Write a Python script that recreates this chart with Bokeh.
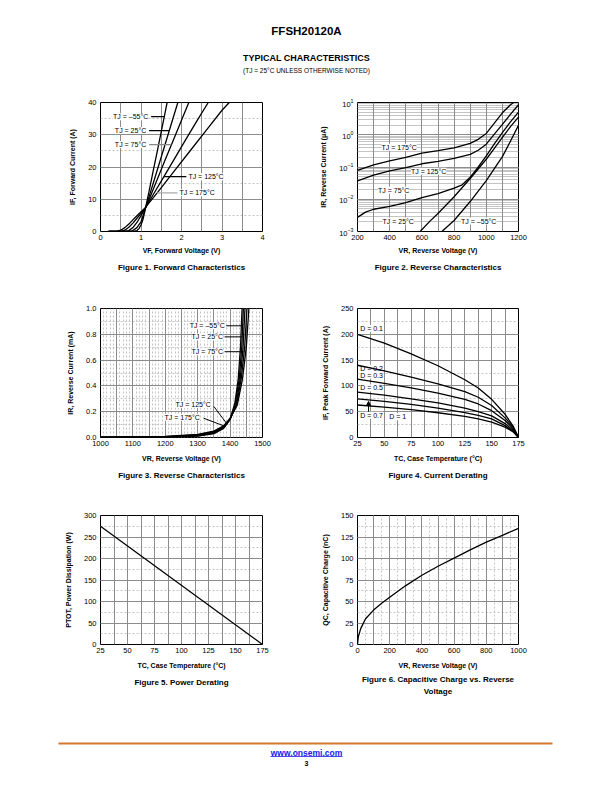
from bokeh.plotting import figure
from bokeh.models import (Range1d, SingleIntervalTicker, FixedTicker, Grid, Label, Arrow,
                          NormalHead, Title, PrintfTickFormatter)
from bokeh.layouts import column, row
from bokeh.core.properties import value
from bokeh.embed import file_html
from bokeh.resources import INLINE

FONT = "Liberation Sans"
DARK = "#8c8c8c"
LIGHT = "#c4c4c4"

# ---------------- data ----------------
# Figure 1: forward characteristics (V, A)
f1_v_m55 = [0.2, 0.8, 0.9, 0.95, 1.0, 1.05, 1.1, 1.2, 1.3, 1.4, 1.5, 1.6, 1.645]
f1_i_m55 = [0, 0.02, 0.3, 0.9, 2.0, 3.8, 6.6, 12.5, 18.7, 24.8, 31.0, 37.2, 40]
f1_v_25 = [0.2, 0.7, 0.8, 0.9, 1.0, 1.1, 1.2, 1.4, 1.6, 1.8, 1.91]
f1_i_25 = [0, 0.05, 0.3, 1.2, 3.0, 6.7, 10.8, 19.0, 27.2, 35.5, 40]
f1_v_75 = [0.2, 0.6, 0.7, 0.8, 0.9, 1.0, 1.1, 1.2, 1.4, 1.6, 1.8, 2.0, 2.18]
f1_i_75 = [0, 0.05, 0.3, 1.2, 2.8, 4.9, 7.0, 9.9, 16.1, 22.3, 28.4, 34.5, 40]
f1_v_125 = [0.2, 0.5, 0.6, 0.7, 0.8, 0.9, 1.0, 1.1, 1.3, 1.5, 1.8, 2.1, 2.4, 2.66]
f1_i_125 = [0, 0.05, 0.4, 1.3, 2.6, 4.1, 5.6, 7.1, 11.4, 15.6, 22.0, 28.4, 34.7, 40]
f1_v_175 = [0.2, 0.4, 0.5, 0.6, 0.7, 0.8, 0.9, 1.0, 1.1, 1.4, 1.8, 2.2, 2.6, 3.0, 3.18]
f1_i_175 = [0, 0.05, 0.4, 1.2, 2.3, 3.6, 4.9, 6.1, 7.3, 12.0, 18.4, 24.8, 31.2, 37.6, 40]
f1_xticks = [0, 1, 2, 3, 4]
f1_yticks = [0, 10, 20, 30, 40]

# Figure 2: reverse characteristics (V, uA, log)
f2_v_175 = [200, 300, 400, 500, 600, 700, 800, 900, 950, 1000, 1050, 1100, 1150, 1170]
f2_i_175 = [0.079, 0.117, 0.155, 0.20, 0.27, 0.32, 0.39, 0.54, 0.72, 1.1, 2.3, 4.8, 8.5, 10]
f2_v_125 = [200, 300, 400, 500, 600, 700, 800, 900, 950, 1000, 1050, 1100, 1150, 1200]
f2_i_125 = [0.037, 0.056, 0.076, 0.095, 0.126, 0.15, 0.186, 0.245, 0.33, 0.51, 1.05, 2.1, 4.3, 8.5]
f2_v_75 = [200, 250, 300, 400, 500, 600, 700, 800, 850, 900, 950, 1000, 1050, 1100, 1150, 1200]
f2_i_75 = [0.00275, 0.004, 0.0049, 0.006, 0.0079, 0.0112, 0.015, 0.022, 0.028, 0.048, 0.10, 0.22, 0.52, 1.17, 2.5, 5.0]
f2_v_25 = [589, 650, 700, 800, 900, 1000, 1050, 1100, 1150, 1200]
f2_i_25 = [0.001, 0.0021, 0.0036, 0.012, 0.044, 0.174, 0.38, 0.83, 1.78, 3.5]
f2_v_m55 = [724, 800, 900, 1000, 1050, 1100, 1150, 1200]
f2_i_m55 = [0.001, 0.0022, 0.0085, 0.038, 0.089, 0.21, 0.63, 1.95]
f2_xticks = [200, 400, 600, 800, 1000, 1200]

# Figure 3: reverse characteristics (V, mA)
f3_v_m55 = [1000, 1200, 1300, 1350, 1380, 1400, 1415, 1425, 1432, 1437]
f3_i_m55 = [0.0, 0.003, 0.01, 0.03, 0.07, 0.14, 0.27, 0.45, 0.7, 1.0]
f3_v_25 = [1000, 1200, 1300, 1350, 1380, 1400, 1415, 1428, 1436, 1441]
f3_i_25 = [0.001, 0.004, 0.013, 0.035, 0.075, 0.14, 0.25, 0.45, 0.7, 1.0]
f3_v_75 = [1000, 1200, 1300, 1350, 1380, 1400, 1418, 1431, 1440, 1446]
f3_i_75 = [0.001, 0.005, 0.016, 0.04, 0.08, 0.14, 0.25, 0.45, 0.7, 1.0]
f3_v_125 = [1000, 1200, 1300, 1350, 1380, 1400, 1420, 1434, 1445, 1452]
f3_i_125 = [0.002, 0.006, 0.02, 0.045, 0.085, 0.145, 0.25, 0.45, 0.7, 1.0]
f3_v_175 = [1000, 1200, 1300, 1350, 1380, 1400, 1422, 1438, 1450, 1458]
f3_i_175 = [0.003, 0.008, 0.025, 0.05, 0.09, 0.15, 0.25, 0.45, 0.7, 1.0]
f3_xticks = [1000, 1100, 1200, 1300, 1400, 1500]
f3_yticks = [0.0, 0.2, 0.4, 0.6, 0.8, 1.0]

# Figure 4: current derating (degC, A)
f4_t = [25, 50, 75, 100, 125, 137.5, 150, 162.5, 170, 175]
f4_d01 = [200, 183, 162, 139, 112, 96, 74, 45, 22, 0]
f4_d02 = [140, 129, 117, 104, 89, 78, 62, 38, 20, 0]
f4_d03 = [113, 105, 96, 86, 74, 65, 52, 33, 17, 0]
f4_d05 = [88, 82, 75, 67, 57, 50, 42, 27, 14, 0]
f4_d07 = [75, 70, 64, 57, 48, 43, 36, 23, 12, 0]
f4_d1 = [63, 59, 54, 48, 41, 36, 30, 20, 11, 0]
f4_xticks = [25, 50, 75, 100, 125, 150, 175]
f4_yticks = [0, 50, 100, 150, 200, 250]

# Figure 5: power derating
f5_t = [25, 175]
f5_p = [275, 0]
f5_xticks = [25, 50, 75, 100, 125, 150, 175]
f5_yticks = [0, 50, 100, 150, 200, 250, 300]

# Figure 6: capacitive charge
f6_v = [0, 5, 20, 50, 100, 150, 200, 300, 400, 500, 600, 700, 800, 900, 1000]
f6_q = [0, 9, 18.5, 30, 40, 48, 55, 68.5, 80.5, 91, 100.5, 110, 119, 127, 135]
f6_xticks = [0, 200, 400, 600, 800, 1000]
f6_yticks = [0, 25, 50, 75, 100, 125, 150]

# annotation positions (data units)
f1_labels = [("TJ = \u201355\u00b0C", 1.18, 35.6, "right"), ("TJ = 25\u00b0C", 1.13, 31.3, "right"),
             ("TJ = 75\u00b0C", 1.13, 26.95, "right"), ("TJ = 125\u00b0C", 2.17, 17.0, "left"),
             ("TJ = 175\u00b0C", 1.95, 12.0, "left")]
f1_leaders = [(1.25, 1.58, 35.6, "black"), (1.2, 1.70, 31.3, "black"), (1.2, 1.75, 26.95, "#888888"),
              (1.57, 2.12, 17.0, "black"), (1.40, 1.90, 12.0, "#aaaaaa")]
f2_labels = [("TJ = 175\u00b0C", 459, 0.41), ("TJ = 125\u00b0C", 642, 0.074), ("TJ = 75\u00b0C", 425, 0.019),
             ("TJ = 25\u00b0C", 453, 0.0021), ("TJ = \u201355\u00b0C", 953, 0.0021)]
f3_labels = [("TJ = \u201355\u00b0C", 1384, 0.866, "right"), ("TJ = 25\u00b0C", 1378, 0.78, "right"),
             ("TJ = 75\u00b0C", 1378, 0.665, "right"), ("TJ = 125\u00b0C", 1286, 0.255, "center"),
             ("TJ = 175\u00b0C", 1252, 0.157, "center")]
f3_leaders = [(1388, 0.866, 1435, 0.866), (1383, 0.78, 1438, 0.78), (1383, 0.665, 1442, 0.665),
              (1350, 0.24, 1392, 0.10), (1318, 0.15, 1386, 0.085)]
f4_labels = [("D = 0.1", 27.5, 211), ("D = 0.2", 27.5, 134), ("D = 0.3", 27.5, 121),
             ("D = 0.5", 27.5, 96), ("D = 0.7", 27.5, 43), ("D = 1", 54.5, 40)]


def style_title(t):
    t.align = "center"
    t.text_font = FONT
    t.text_font_style = "bold"
    t.text_font_size = "8px"
    t.text_color = "black"


def panel(w, h, bl, br, bt, bb, xr, yr, caption, xlabel, ylabel, ylog=False, xls=3):
    p = figure(width=w, height=h, x_range=Range1d(*xr), y_range=Range1d(*yr),
               y_axis_type="log" if ylog else "linear", output_backend="svg",
               toolbar_location=None, min_border_left=bl, min_border_right=br,
               min_border_top=bt, min_border_bottom=bb, title_location="below")
    p.outline_line_color = "black"
    p.outline_line_width = 1
    p.xgrid.grid_line_color = None
    if not ylog:
        p.ygrid.grid_line_color = None
    for ax in p.axis:
        ax.axis_line_color = None
        ax.major_tick_line_color = None
        ax.minor_tick_line_color = None
        ax.major_tick_out = 0
        ax.major_tick_in = 0
        ax.minor_tick_out = 0
        ax.minor_tick_in = 0
        ax.major_label_text_font = FONT
        ax.major_label_text_font_size = "7.5px"
        ax.major_label_text_color = "black"
        ax.axis_label_text_font = FONT
        ax.axis_label_text_font_style = "bold"
        ax.axis_label_text_font_size = "7px"
        ax.axis_label_text_color = "black"
    p.xaxis.major_label_standoff = 3
    p.xaxis.axis_label_standoff = xls
    p.yaxis.major_label_standoff = 4
    p.yaxis.axis_label_standoff = 9
    p.xaxis.axis_label = xlabel
    p.yaxis.axis_label = ylabel
    p.title.text = caption
    style_title(p.title)
    p.title.standoff = 9
    return p


def grid(p, dim, interval, color, dash="solid"):
    g = Grid(dimension=dim, ticker=SingleIntervalTicker(interval=interval),
             grid_line_color=color, grid_line_dash=dash, grid_line_width=1)
    p.add_layout(g)


def label(p, text, x, y, align="left", level="annotation"):
    p.add_layout(Label(x=x, y=y, text=text, text_font=FONT, text_font_size="7px",
                       text_color="black", text_align=align, text_baseline="middle",
                       background_fill_color="white", level=level))


def curve(p, xs, ys):
    p.line(xs, ys, line_color="black", line_width=1.3)


WL = 306
WR = 304
# ---------------- Figure 1 ----------------
p1 = panel(WL, 202, 100, 44, 14, 59, (0, 4), (0, 40), "Figure 1. Forward Characteristics",
           "VF, Forward Voltage (V)", "IF, Forward Current (A)", xls=4)
grid(p1, 1, 5, LIGHT, "2 2")
grid(p1, 0, 0.5, DARK)
grid(p1, 1, 10, DARK)
p1.xaxis.ticker = FixedTicker(ticks=f1_xticks)
p1.yaxis.ticker = FixedTicker(ticks=f1_yticks)
for xs, ys in [(f1_v_m55, f1_i_m55), (f1_v_25, f1_i_25), (f1_v_75, f1_i_75),
               (f1_v_125, f1_i_125), (f1_v_175, f1_i_175)]:
    curve(p1, xs, ys)
for x0, x1, y, c in f1_leaders:
    p1.segment(x0=[x0], y0=[y], x1=[x1], y1=[y], line_color=c, line_width=1.2)
for t, x, y, a in f1_labels:
    label(p1, t, x, y, a)

# ---------------- Figure 2 ----------------
p2 = panel(WR, 202, 51, 92, 14, 59, (200, 1200), (1e-3, 1e1), "Figure 2. Reverse Characteristics",
           "VR, Reverse Voltage (V)", "IR, Reverse Current (\u03bcA)", ylog=True, xls=4)
p2.ygrid.grid_line_color = DARK
p2.ygrid.minor_grid_line_color = LIGHT
grid(p2, 0, 100, DARK)
p2.xaxis.ticker = FixedTicker(ticks=f2_xticks)
for xs, ys in [(f2_v_175, f2_i_175), (f2_v_125, f2_i_125), (f2_v_75, f2_i_75),
               (f2_v_25, f2_i_25), (f2_v_m55, f2_i_m55)]:
    curve(p2, xs, ys)
for t, x, y in f2_labels:
    label(p2, t, x, y, "center")

# ---------------- Figure 3 ----------------
p3 = panel(WL, 207, 100, 44, 18, 60, (1000, 1500), (0, 1), "Figure 3. Reverse Characteristics",
           "VR, Reverse Voltage (V)", "IR, Reverse Current (mA)", xls=6)
grid(p3, 0, 10, LIGHT, "2 2")
grid(p3, 1, 0.1, LIGHT, "2 2")
grid(p3, 0, 50, DARK)
grid(p3, 1, 0.2, DARK)
p3.xaxis.ticker = FixedTicker(ticks=f3_xticks)
p3.yaxis.ticker = FixedTicker(ticks=f3_yticks)
p3.yaxis.formatter = PrintfTickFormatter(format="%.1f")
for xs, ys in [(f3_v_m55, f3_i_m55), (f3_v_25, f3_i_25), (f3_v_75, f3_i_75),
               (f3_v_125, f3_i_125), (f3_v_175, f3_i_175)]:
    curve(p3, xs, ys)
for x0, y0, x1, y1 in f3_leaders:
    p3.segment(x0=[x0], y0=[y0], x1=[x1], y1=[y1], line_color="black", line_width=1)
for t, x, y, a in f3_labels:
    label(p3, t, x, y, a)

# ---------------- Figure 4 ----------------
p4 = panel(WR, 207, 51, 92, 18, 60, (25, 175), (0, 250), "Figure 4. Current Derating",
           "TC, Case Temperature (\u00b0C)", "IF, Peak Forward Current (A)", xls=6)
grid(p4, 1, 25, LIGHT, "2 2")
grid(p4, 0, 12.5, DARK)
grid(p4, 1, 50, DARK)
p4.xaxis.ticker = FixedTicker(ticks=f4_xticks)
p4.yaxis.ticker = FixedTicker(ticks=f4_yticks)
for t, x, y in f4_labels:
    label(p4, t, x, y, "left", level="underlay")
for ys in [f4_d01, f4_d02, f4_d03, f4_d05, f4_d07, f4_d1]:
    curve(p4, f4_t, ys)
p4.add_layout(Arrow(end=NormalHead(size=4, fill_color="black", line_color="black"),
                    x_start=35.3, y_start=50, x_end=35.3, y_end=70, line_width=1))

# ---------------- Figure 5 ----------------
p5 = panel(WL, 208, 100, 44, 18, 61, (25, 175), (0, 300), "Figure 5. Power Derating",
           "TC, Case Temperature (\u00b0C)", "PTOT, Power Dissipation (W)", xls=6)
grid(p5, 1, 25, LIGHT, "2 2")
grid(p5, 0, 12.5, DARK)
grid(p5, 1, 50, DARK)
p5.xaxis.ticker = FixedTicker(ticks=f5_xticks)
p5.yaxis.ticker = FixedTicker(ticks=f5_yticks)
curve(p5, f5_t, f5_p)

# ---------------- Figure 6 ----------------
# the figure's own (outermost) title carries the second caption line
p6 = panel(WR, 208, 51, 92, 18, 61, (0, 1000), (0, 150), "Voltage",
           "VR, Reverse Voltage (V)", "QC, Capacitive Charge (nC)", xls=6)
p6.title.standoff = 0
t6 = Title(text="Figure 6. Capacitive Charge vs. Reverse")
style_title(t6)
t6.standoff = 2
p6.add_layout(t6, "below")
for t in (p6.title, t6):
    if "padding" in t.properties():
        t.padding = 0
grid(p6, 0, 50, LIGHT, "2 2")
grid(p6, 1, 12.5, LIGHT, "2 2")
grid(p6, 0, 100, DARK)
grid(p6, 1, 25, DARK)
p6.xaxis.ticker = FixedTicker(ticks=f6_xticks)
p6.yaxis.ticker = FixedTicker(ticks=f6_yticks)
curve(p6, f6_v, f6_q)


# ---------------- header / footer ----------------
def blank(h):
    p = figure(width=610, height=h, x_range=Range1d(0, 610), y_range=Range1d(h, 0),
               output_backend="svg", toolbar_location=None, min_border=0,
               x_axis_location=None, y_axis_location=None)
    p.grid.grid_line_color = None
    p.outline_line_color = None
    return p


hdr = blank(88)
hdr.text(x=[306], y=[30], text=["FFSH20120A"], text_font=value(FONT), text_font_style="bold",
         text_font_size="11.5px", text_align="center", text_baseline="middle", text_color="black")
hdr.text(x=[306], y=[57], text=["TYPICAL CHARACTERISTICS"], text_font=value(FONT),
         text_font_style="bold", text_font_size="9px", text_align="center",
         text_baseline="middle", text_color="black")
hdr.text(x=[306], y=[70], text=["(TJ = 25\u00b0C UNLESS OTHERWISE NOTED)"], text_font=value(FONT),
         text_font_size="6.5px", text_align="center", text_baseline="middle", text_color="black")

ftr = blank(85)
ftr.segment(x0=[58], y0=[38], x1=[552], y1=[38], line_color="#d4782f", line_width=1.8)
ftr.text(x=[306], y=[47], text=["www.onsemi.com"], text_font=value(FONT), text_font_style="bold",
         text_font_size="8.5px", text_align="center", text_baseline="middle", text_color="#1a1aee")
ftr.segment(x0=[270], y0=[51], x1=[342], y1=[51], line_color="#1a1aee", line_width=0.8)
ftr.text(x=[306], y=[58], text=["3"], text_font=value(FONT), text_font_style="bold",
         text_font_size="7px", text_align="center", text_baseline="middle", text_color="black")

page = column(hdr, row(p1, p2), row(p3, p4), row(p5, p6), ftr)
open("out.html", "w").write(file_html(page, INLINE))
